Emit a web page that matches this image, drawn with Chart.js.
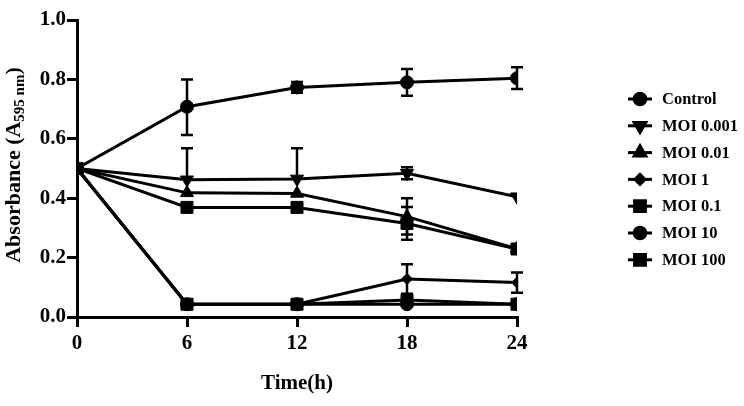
<!DOCTYPE html>
<html>
<head>
<meta charset="utf-8">
<script src="https://cdn.jsdelivr.net/npm/chart.js@4.4.1/dist/chart.umd.min.js"></script>
<style>
  html, body { margin: 0; padding: 0; background: #fff; }
  #wrap { width: 744px; height: 406px; position: relative; }
</style>
</head>
<body>
<div id="wrap"><canvas id="absChart"></canvas></div>
<script>
// Time points (h)
const times = [0, 6, 12, 18, 24];
const xTicks = [0, 6, 12, 18, 24];
const yTicks = [0.0, 0.2, 0.4, 0.6, 0.8, 1.0];

// Absorbance values
const control = [0.5, 0.708, 0.773, 0.79, 0.804];
const controlErrUp = [0, 0.092, 0.018, 0.045, 0.037];
const controlErrDown = [0, 0.095, 0.018, 0.045, 0.036];

const moi0001 = [0.5, 0.462, 0.465, 0.484, 0.405];
const moi0001ErrUp = [0, 0.106, 0.103, 0.02, 0];
const moi0001ErrDown = [0, 0, 0, 0.02, 0];

const moi001 = [0.5, 0.418, 0.416, 0.338, 0.23];
const moi001ErrUp = [0, 0, 0, 0.062, 0];
const moi001ErrDown = [0, 0, 0, 0.06, 0];

const moi1 = [0.5, 0.043, 0.043, 0.128, 0.116];
const moi1ErrUp = [0, 0, 0, 0.05, 0.034];
const moi1ErrDown = [0, 0, 0, 0.05, 0.034];

const moi01 = [0.5, 0.369, 0.369, 0.315, 0.229];
const moi01ErrUp = [0, 0, 0, 0.055, 0];
const moi01ErrDown = [0, 0, 0, 0.055, 0];

const moi10 = [0.5, 0.043, 0.043, 0.043, 0.043];
const moi10ErrUp = [0, 0, 0, 0, 0];
const moi10ErrDown = [0, 0, 0, 0, 0];

const moi100 = [0.5, 0.043, 0.043, 0.057, 0.043];
const moi100ErrUp = [0, 0, 0, 0.01, 0];
const moi100ErrDown = [0, 0, 0, 0.01, 0];

const FONT = "'Liberation Serif', 'Times New Roman', serif";

function series(label, values, up, down, style, radius, rotation, order) {
    return {
        label: label,
        data: times.map((t, i) => ({ x: t, y: values[i] })),
        errUp: up,
        errDown: down,
        borderColor: '#000',
        backgroundColor: '#000',
        borderWidth: 3,
        pointStyle: style,
        pointRadius: radius,
        pointRotation: rotation,
        pointBackgroundColor: '#000',
        pointBorderColor: '#000',
        pointBorderWidth: 1,
        tension: 0,
        order: order
    };
}

// Error bars drawn through the chart's own scales
const errorBars = {
    id: 'errorBars',
    beforeDatasetsDraw(chart) {
        const ctx = chart.ctx;
        const xs = chart.scales.x, ys = chart.scales.y;
        ctx.save();
        ctx.strokeStyle = '#000';
        ctx.lineWidth = 2.5;
        chart.data.datasets.forEach(ds => {
            ds.data.forEach((p, i) => {
                const up = ds.errUp[i], down = ds.errDown[i];
                if (!up && !down) return;
                const px = xs.getPixelForValue(p.x);
                const y0 = ys.getPixelForValue(p.y + up);
                const y1 = ys.getPixelForValue(p.y - down);
                ctx.beginPath();
                ctx.moveTo(px, y0); ctx.lineTo(px, y1);
                if (up) { ctx.moveTo(px - 6, y0); ctx.lineTo(px + 6, y0); }
                if (down) { ctx.moveTo(px - 6, y1); ctx.lineTo(px + 6, y1); }
                ctx.stroke();
            });
        });
        ctx.restore();
    }
};

// Legend on the right: line segment + marker + label
const sideLegend = {
    id: 'sideLegend',
    afterDraw(chart) {
        const ctx = chart.ctx;
        const list = chart.data.datasets.slice().sort((a, b) => a.legendIdx - b.legendIdx);
        ctx.save();
        list.forEach((ds, i) => {
            const y = 99 + i * 26.8;
            ctx.strokeStyle = '#000';
            ctx.lineWidth = 3;
            ctx.beginPath();
            ctx.moveTo(628, y); ctx.lineTo(652, y);
            ctx.stroke();
            ctx.fillStyle = '#000';
            Chart.helpers.drawPoint(ctx, {
                pointStyle: ds.pointStyle,
                radius: ds.pointRadius * 0.9,
                rotation: ds.pointRotation,
                borderWidth: 1
            }, 640, y);
            ctx.fill();
            ctx.font = 'bold 16.5px ' + FONT;
            ctx.textBaseline = 'middle';
            ctx.textAlign = 'left';
            ctx.fillText(ds.label, 662, y + 1);
        });
        ctx.restore();
    }
};

// Rotated y title with subscript
const yTitle = {
    id: 'yTitle',
    afterDraw(chart) {
        const ctx = chart.ctx;
        const main = 'Absorbance (A';
        const sub = '595 nm';
        const close = ')';
        ctx.save();
        ctx.translate(20, 165);
        ctx.rotate(-Math.PI / 2);
        ctx.fillStyle = '#000';
        ctx.textBaseline = 'alphabetic';
        ctx.textAlign = 'left';
        const big = 'bold 22px ' + FONT, small = 'bold 15px ' + FONT;
        ctx.font = big; const w1 = ctx.measureText(main).width; const w3 = ctx.measureText(close).width;
        ctx.font = small; const w2 = ctx.measureText(sub).width;
        let x = -(w1 + w2 + w3) / 2;
        ctx.font = big; ctx.fillText(main, x, 0); x += w1;
        ctx.font = small; ctx.fillText(sub, x, 4); x += w2;
        ctx.font = big; ctx.fillText(close, x, 0);
        ctx.restore();
    }
};

const datasets = [
    series('Control', control, controlErrUp, controlErrDown, 'circle', 6.5, 0, 3),
    series('MOI 0.001', moi0001, moi0001ErrUp, moi0001ErrDown, 'triangle', 7.5, 180, 3),
    series('MOI 0.01', moi001, moi001ErrUp, moi001ErrDown, 'triangle', 7.5, 0, 3),
    series('MOI 1', moi1, moi1ErrUp, moi1ErrDown, 'rectRot', 5.5, 0, 3),
    series('MOI 0.1', moi01, moi01ErrUp, moi01ErrDown, 'rect', 8.5, 0, 1),
    series('MOI 10', moi10, moi10ErrUp, moi10ErrDown, 'circle', 6.5, 0, 2),
    series('MOI 100', moi100, moi100ErrUp, moi100ErrDown, 'rect', 8.5, 0, 0)
];
datasets.forEach((d, i) => d.legendIdx = i);

new Chart(document.getElementById('absChart'), {
    type: 'line',
    data: { datasets: datasets },
    plugins: [errorBars, sideLegend, yTitle],
    options: {
        responsive: true,
        maintainAspectRatio: false,
        animation: false,
        layout: { padding: { left: 0, right: 227, top: 20, bottom: 0 } },
        plugins: { legend: { display: false }, tooltip: { enabled: false } },
        scales: {
            x: {
                type: 'linear',
                min: 0, max: 24,
                afterBuildTicks: s => { s.ticks = xTicks.map(v => ({ value: v })); },
                afterFit: s => { s.height = 89; },
                border: { display: true, color: '#000', width: 3 },
                grid: { display: true, drawOnChartArea: false, drawTicks: true, tickLength: 10, color: '#000', lineWidth: 3 },
                ticks: { color: '#000', font: { family: FONT, size: 21, weight: 'bold' }, padding: 4, maxRotation: 0 },
                title: { display: true, text: 'Time(h)', color: '#000', font: { family: FONT, size: 21, weight: 'bold' }, padding: { top: 2, bottom: 10 } }
            },
            y: {
                min: 0, max: 1,
                afterBuildTicks: s => { s.ticks = yTicks.map(v => ({ value: v })); },
                afterFit: s => { s.width = 77; },
                border: { display: true, color: '#000', width: 3 },
                grid: { display: true, drawOnChartArea: false, drawTicks: true, tickLength: 10, color: '#000', lineWidth: 3 },
                ticks: { color: '#000', font: { family: FONT, size: 21, weight: 'bold' }, padding: 1, callback: v => v.toFixed(1) }
            }
        }
    }
});
</script>
</body>
</html>
